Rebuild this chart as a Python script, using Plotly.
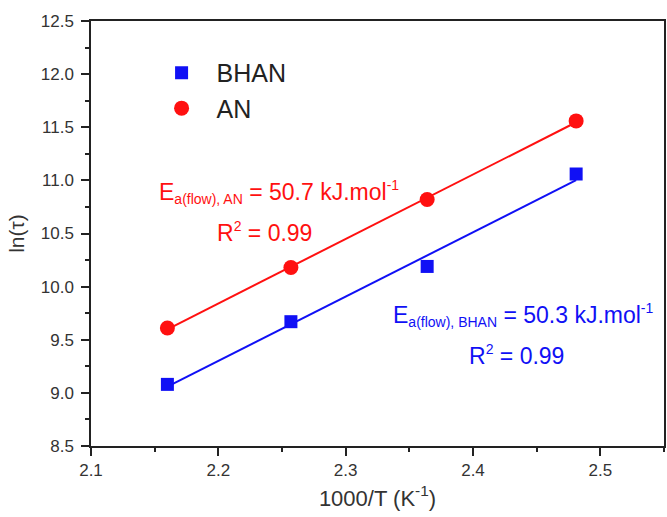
import numpy as np
import plotly.graph_objects as go

# ---- data ----
x_inv_T = [2.160, 2.257, 2.364, 2.481]          # 1000/T (K^-1)
ln_tau_BHAN = [9.08, 9.67, 10.19, 11.06]
ln_tau_AN = [9.61, 10.18, 10.82, 11.56]
series_names = ["BHAN", "AN"]
x_ticks = [2.1, 2.2, 2.3, 2.4, 2.5]
y_ticks = [8.5, 9.0, 9.5, 10.0, 10.5, 11.0, 11.5, 12.0, 12.5]

BLUE = "#1010F5"
RED = "#FF1010"
FONT = "Liberation Sans, Arial, sans-serif"

fig = go.Figure()

def fit_line(x, y):
    p = np.polyfit(x, y, 1)
    xs = np.array([min(x), max(x)])
    return xs, np.polyval(p, xs)

for y, color in [(ln_tau_BHAN, BLUE), (ln_tau_AN, RED)]:
    xs, ys = fit_line(x_inv_T, y)
    fig.add_trace(go.Scatter(x=xs, y=ys, mode="lines",
                             line=dict(color=color, width=2),
                             showlegend=False, hoverinfo="skip"))

fig.add_trace(go.Scatter(x=x_inv_T, y=ln_tau_BHAN, mode="markers", name=series_names[0],
                         marker=dict(symbol="square", size=13, color=BLUE)))
fig.add_trace(go.Scatter(x=x_inv_T, y=ln_tau_AN, mode="markers", name=series_names[1],
                         marker=dict(symbol="circle", size=15, color=RED)))

axis_common = dict(
    showline=True, linecolor="#222222", linewidth=1.5, mirror=True,
    ticks="outside", ticklen=8, tickwidth=1.5, tickcolor="#222222",
    showgrid=False, zeroline=False,
    tickfont=dict(family=FONT, size=17, color="#333333"),
)

fig.update_xaxes(range=[2.1, 2.55], tickvals=x_ticks, ticktext=[f"{v:.1f}" for v in x_ticks],
                 minor=dict(ticks="outside", ticklen=4, dtick=0.05, tick0=2.1, tickwidth=1.5, tickcolor="#222222"),
                 title=dict(text="1000/T (K<sup>-1</sup>)", font=dict(family=FONT, size=22, color="#333333"), standoff=11),
                 **axis_common)
fig.update_yaxes(range=[8.5, 12.5], tickvals=y_ticks, ticktext=[f"{v:.1f}" for v in y_ticks],
                 minor=dict(ticks="outside", ticklen=4, dtick=0.25, tick0=8.5, tickwidth=1.5, tickcolor="#222222"),
                 title=dict(text="ln(τ)", font=dict(family=FONT, size=21, color="#333333"), standoff=10),
                 ticklabelstandoff=4,
                 **axis_common)

ann = [
    dict(x=2.1515, y=10.89, text="E<sub><span style='font-size:14px'>a(flow), AN</span></sub> = 50.7 kJ.mol<sup><span style='font-size:14px'>-1</span></sup>",
         color=RED),
    dict(x=2.1976, y=10.51, text="R<sup><span style='font-size:14px'>2</span></sup> = 0.99", color=RED),
    dict(x=2.3357, y=9.73, text="E<sub><span style='font-size:14px'>a(flow), BHAN</span></sub> = 50.3 kJ.mol<sup><span style='font-size:14px'>-1</span></sup>",
         color=BLUE),
    dict(x=2.3954, y=9.36, text="R<sup><span style='font-size:14px'>2</span></sup> = 0.99", color=BLUE),
]
for a in ann:
    fig.add_annotation(x=a["x"], y=a["y"], xref="x", yref="y", text=a["text"], showarrow=False,
                       xanchor="left", yanchor="middle",
                       font=dict(family=FONT, size=23, color=a["color"]))

fig.update_layout(
    width=667, height=517,
    margin=dict(l=91, r=1, t=21, b=71),
    paper_bgcolor="white", plot_bgcolor="white",
    showlegend=True,
    legend=dict(x=0.097, y=0.932, xanchor="left", yanchor="top",
                font=dict(family=FONT, size=25, color="#222222"),
                bgcolor="rgba(0,0,0,0)", itemwidth=60, tracegroupgap=0),
)

fig.write_html("out.html", config={"displayModeBar": False},
               post_script="document.body.style.margin='0px';document.body.style.padding='0px';")
